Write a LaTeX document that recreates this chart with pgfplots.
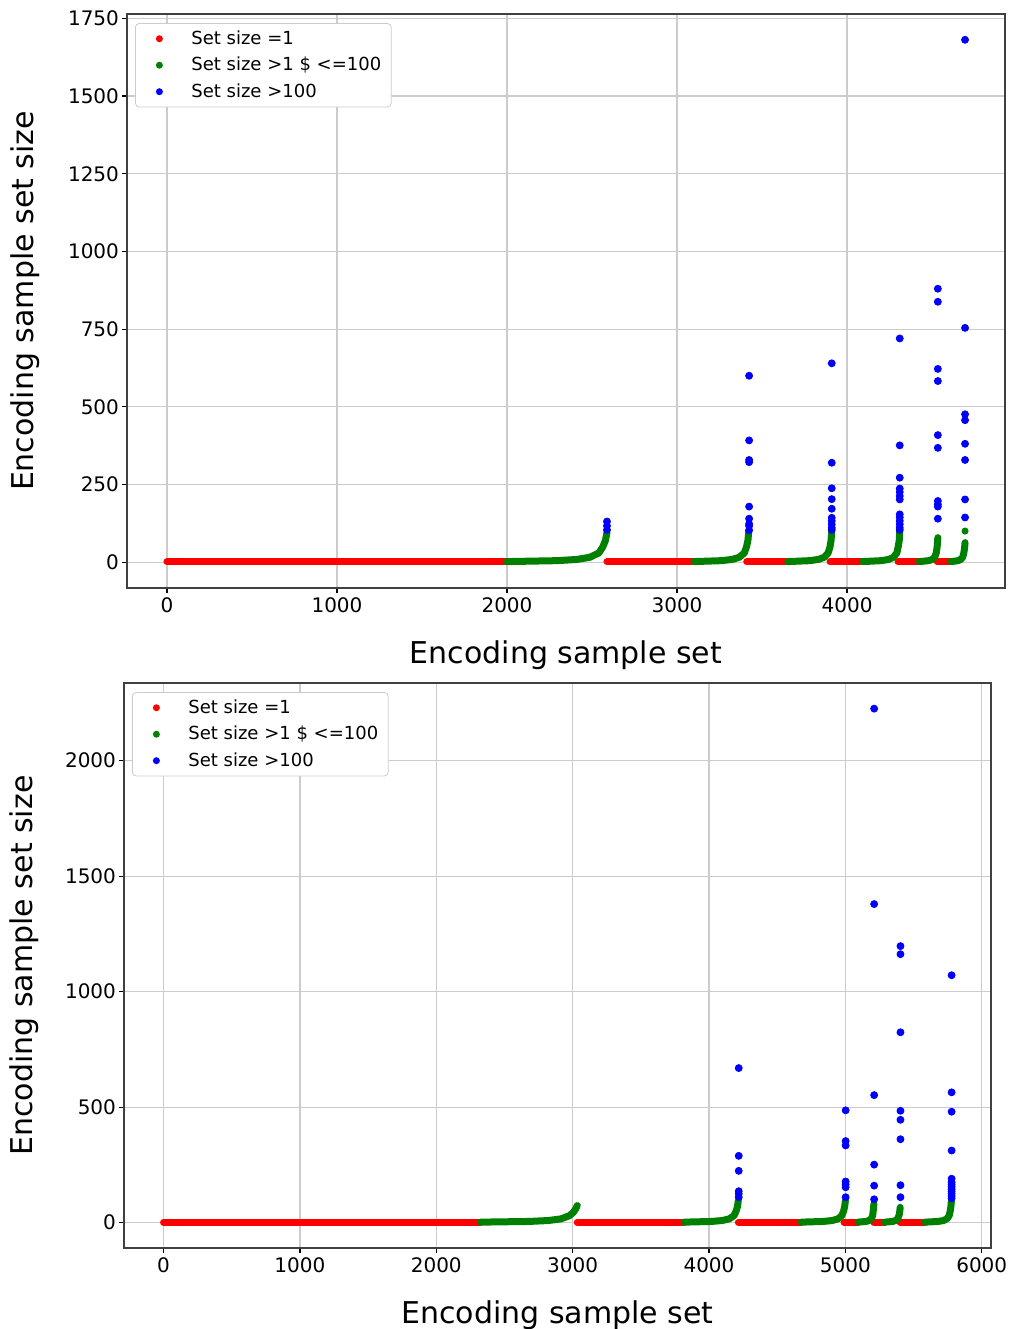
\documentclass[border=0pt]{standalone}
\usepackage{fontspec}
\setmainfont{DejaVu Sans}
\usepackage{pgfplots}
\pgfplotsset{compat=1.18}
\definecolor{mplred}{rgb}{1,0,0}
\definecolor{mplgreen}{rgb}{0,0.5,0}
\definecolor{mplblue}{rgb}{0,0,1}
\definecolor{gridgray}{HTML}{CCCCCC}
\definecolor{legframe}{HTML}{CCCCCC}
\pgfplotsset{
  mystyle/.style={
    scale only axis,
    axis line style={black!75, line width=0.6pt},
    grid=major,
    major grid style={gridgray, line width=0.6pt},
    tick align=outside,
    xtick pos=left, ytick pos=left,
    major tick length=2.5pt,
    tick style={black, line width=0.6pt},
    ticklabel style={font=\fontsize{10}{12}\selectfont},
    yticklabel style={xshift=2pt},
    xticklabel style={yshift=1pt},
    /pgf/number format/assume math mode=true,
    /pgf/number format/1000 sep={},
    label style={font=\fontsize{15}{18}\selectfont},
    legend cell align=left,
    legend style={at={(0,1)}, anchor=north west, xshift=4pt, yshift=-4.5pt,
      draw=legframe, rounded corners=2pt, fill=white,
      font=\fontsize{9}{11}\selectfont, row sep=0.9pt, inner xsep=3pt, inner ysep=1.5pt},
    dotleg/.style={legend image code/.code={\path[draw=none,fill=none] (0pt,0pt) (23pt,0pt); \fill[draw=none] (9pt,0pt) circle (1.75pt);}},
    redline/.style={color=mplred, line width=3.5pt, line cap=round, line join=round, no marks, unbounded coords=jump, dotleg},
    greenline/.style={color=mplgreen, line width=3.5pt, line cap=round, line join=round, no marks, unbounded coords=jump, dotleg},
    bluedots/.style={color=mplblue, only marks, mark=*, mark size=1.75pt, mark options={draw=none, fill=mplblue}, dotleg},
  }
}
\begin{document}
\begin{tikzpicture}
\useasboundingbox (0,0) rectangle (504pt,-664.5pt);
% ---------------- top axis ----------------
\begin{axis}[mystyle,
  at={(63.5pt,-7pt)}, anchor=north west,
  width=439pt, height=287pt,
  xmin=-235, xmax=4929, ymin=-83, ymax=1764,
  xtick={0,1000,2000,3000,4000},
  ytick={0,250,500,750,1000,1250,1500,1750},
  xlabel={Encoding sample set},
  ylabel={Encoding sample set size},
  xlabel style={at={(axis description cs:0.5,-0.1176)}, anchor=center},
  ylabel style={at={(axis description cs:-0.1162,0.5)}, anchor=center},
]
\addplot[redline] coordinates {
 (0,1) (2000,1) (2000,nan)
 (2588,1) (3100,1) (3100,nan)
 (3410,1) (3651,1) (3651,nan)
 (3900,1) (4092,1) (4092,nan)
 (4300,1) (4425,1) (4425,nan)
 (4530,1) (4612,1)
};
\addlegendentry{Set size =1}
\addplot[greenline] coordinates {
 (2000,2) (2294,5) (2412,9) (2488,16) (2541,30) (2564,50) (2579,70) (2588,96) (2588,nan)
 (3100,2) (3261,5) (3325,9) (3367,16) (3396,30) (3409,50) (3417,70) (3422,100) (3422,nan)
 (3651,2) (3781,5) (3832,9) (3866,16) (3889,30) (3900,50) (3906,70) (3910,100) (3910,nan)
 (4092,2) (4201,5) (4245,9) (4273,16) (4293,30) (4301,50) (4307,70) (4310,102) (4310,nan)
 (4425,2) (4480,5) (4501,9) (4515,16) (4525,30) (4530,50) (4532,65) (4534,79) (4534,nan)
 (4612,2) (4653,5) (4669,9) (4680,16) (4687,30) (4691,45) (4694,63) (4694,nan)
 (4694,100) (4694,100.5)
};
\addlegendentry{Set size >1 \$ <=100}
\addplot[bluedots] coordinates {
 (2588,104) (2588,117) (2588,131)
 (3424,103) (3424,117) (3424,123) (3424,140) (3424,179) (3424,322) (3424,329) (3424,392) (3424,600)
 (3910,104) (3910,111) (3910,122) (3910,133) (3910,143) (3910,172) (3910,203) (3910,238) (3910,320) (3910,640)
 (4310,104) (4310,111) (4310,122) (4310,133) (4310,144) (4310,154) (4310,202) (4310,213) (4310,226) (4310,237) (4310,272) (4310,376) (4310,720)
 (4534,140) (4534,179) (4534,186) (4534,197) (4534,368) (4534,409) (4534,583) (4534,622) (4534,838) (4534,880)
 (4694,144) (4694,202) (4694,329) (4694,381) (4694,457) (4694,476) (4694,754) (4694,1681)
};
\addlegendentry{Set size >100}
\end{axis}
% ---------------- bottom axis ----------------
\begin{axis}[mystyle,
  at={(62pt,-341.5pt)}, anchor=north west,
  width=433.5pt, height=282.5pt,
  xmin=-290, xmax=6068, ymin=-110, ymax=2336,
  xtick={0,1000,2000,3000,4000,5000,6000},
  ytick={0,500,1000,1500,2000},
  xlabel={Encoding sample set},
  ylabel={Encoding sample set size},
  xlabel style={at={(axis description cs:0.5,-0.1186)}, anchor=center},
  ylabel style={at={(axis description cs:-0.1153,0.5)}, anchor=center},
]
\addplot[redline] coordinates {
 (0,1) (2323,1) (2323,nan)
 (3034,1) (3818,1) (3818,nan)
 (4215,1) (4676,1) (4676,nan)
 (4990,1) (5093,1) (5093,nan)
 (5209,1) (5289,1) (5289,nan)
 (5402,1) (5583,1)
};
\addlegendentry{Set size =1}
\addplot[greenline] coordinates {
 (2323,2) (2679,5) (2821,9) (2913,16) (2977,30) (3006,45) (3023,60) (3034,74) (3034,nan)
 (3818,2) (4017,5) (4096,9) (4148,16) (4183,30) (4199,50) (4209,70) (4215,95) (4215,nan)
 (4676,2) (4838,5) (4903,9) (4945,16) (4974,30) (4987,50) (4995,70) (5000,95) (5000,nan)
 (5093,2) (5151,5) (5174,9) (5189,16) (5200,30) (5204,50) (5207,65) (5209,81) (5209,nan)
 (5289,2) (5346,5) (5368,9) (5383,16) (5393,30) (5398,45) (5402,66) (5402,nan)
 (5583,2) (5680,5) (5719,9) (5744,16) (5761,30) (5769,50) (5774,70) (5777,92)
};
\addlegendentry{Set size >1 \$ <=100}
\addplot[bluedots] coordinates {
 (4218,110) (4218,124) (4218,136) (4218,224) (4218,289) (4218,669)
 (5002,110) (5002,153) (5002,165) (5002,178) (5002,334) (5002,353) (5002,486)
 (5211,101) (5211,160) (5211,251) (5211,552) (5211,1379) (5211,2225)
 (5404,110) (5404,162) (5404,361) (5404,445) (5404,484) (5404,824) (5404,1162) (5404,1197)
 (5779,105) (5779,115) (5779,125) (5779,135) (5779,145) (5779,155) (5779,165) (5779,175) (5779,190) (5779,312) (5779,480) (5779,564) (5779,1071)
};
\addlegendentry{Set size >100}
\end{axis}
\end{tikzpicture}
\end{document}
